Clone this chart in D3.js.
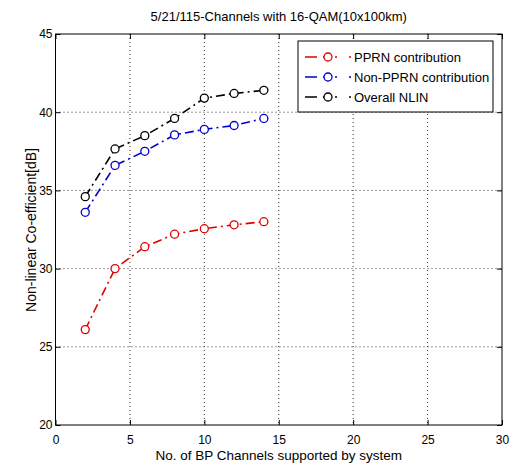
<!DOCTYPE html>
<html>
<head>
<meta charset="utf-8">
<script src="https://cdn.jsdelivr.net/npm/d3@7"></script>
<style>
body { margin: 0; background: #fff; }
text { font-family: "Liberation Sans", Arial, sans-serif; fill: #000; }
</style>
</head>
<body>
<div id="chart"></div>
<script>
// data
var channels = [2, 4, 6, 8, 10, 12, 14];
var pprn = [26.1, 30.0, 31.4, 32.2, 32.55, 32.8, 33.0];
var nonPprn = [33.6, 36.6, 37.5, 38.55, 38.9, 39.15, 39.6];
var overall = [34.6, 37.65, 38.5, 39.6, 40.9, 41.2, 41.4];
var seriesNames = ['PPRN contribution', 'Non-PPRN contribution', 'Overall NLIN'];
var seriesColors = ['#e00000', '#0000cc', '#000000'];
var xTicks = [0, 5, 10, 15, 20, 25, 30];
var yTicks = [20, 25, 30, 35, 40, 45];

var width = 512,
	height = 466,
	margin = { top: 34, left: 55.5, bottom: 41, right: 10 };

var plotW = width - margin.left - margin.right,
	plotH = height - margin.top - margin.bottom;

var x = d3.scaleLinear().domain([0, 30]).range([0, plotW]);
var y = d3.scaleLinear().domain([20, 45]).range([plotH, 0]);

var svg = d3.select('#chart')
	.append('svg')
		.attr('width', width)
		.attr('height', height);

var g = svg.append('g')
	.attr('transform', 'translate(' + margin.left + ',' + margin.top + ')');

// grid
g.selectAll('.vgrid')
	.data(xTicks.slice(1, -1))
	.enter().append('line')
		.attr('x1', function(d){ return x(d); })
		.attr('x2', function(d){ return x(d); })
		.attr('y1', 0)
		.attr('y2', plotH)
		.attr('stroke', '#333')
		.attr('stroke-width', 1)
		.attr('stroke-dasharray', '1,3');

g.selectAll('.hgrid')
	.data(yTicks.slice(1, -1))
	.enter().append('line')
		.attr('x1', 0)
		.attr('x2', plotW)
		.attr('y1', function(d){ return y(d); })
		.attr('y2', function(d){ return y(d); })
		.attr('stroke', '#333')
		.attr('stroke-width', 1)
		.attr('stroke-dasharray', '1,3');

// axes (ticks inward, mirrored on top/right)
var axisStyle = function(sel){
	sel.select('.domain').remove();
	sel.selectAll('line').attr('stroke', '#000');
	sel.selectAll('text').style('font-size', '12px').style('font-family', '"Liberation Sans", Arial, sans-serif');
};

g.append('g')
	.attr('transform', 'translate(0,' + plotH + ')')
	.call(d3.axisBottom(x).tickValues(xTicks).tickSize(-5).tickPadding(10).tickFormat(d3.format('d')))
	.call(axisStyle);

g.append('g')
	.call(d3.axisLeft(y).tickValues(yTicks).tickSize(-5).tickPadding(3).tickFormat(d3.format('d')))
	.call(axisStyle);

g.append('g')
	.call(d3.axisTop(x).tickValues(xTicks).tickSize(-5).tickFormat(''))
	.call(axisStyle);

g.append('g')
	.attr('transform', 'translate(' + plotW + ',0)')
	.call(d3.axisRight(y).tickValues(yTicks).tickSize(-5).tickFormat(''))
	.call(axisStyle);

g.append('rect')
	.attr('width', plotW)
	.attr('height', plotH)
	.attr('fill', 'none')
	.attr('stroke', '#000')
	.attr('stroke-width', 1);

// series
var allSeries = [pprn, nonPprn, overall];
var line = d3.line()
	.x(function(d, i){ return x(channels[i]); })
	.y(function(d){ return y(d); });

allSeries.forEach(function(vals, s){
	g.append('path')
		.datum(vals)
		.attr('d', line)
		.attr('fill', 'none')
		.attr('stroke', seriesColors[s])
		.attr('stroke-width', 1.6)
		.attr('stroke-dasharray', '9,4,2,4');

	g.selectAll('.m' + s)
		.data(vals)
		.enter().append('circle')
			.attr('cx', function(d, i){ return x(channels[i]); })
			.attr('cy', function(d){ return y(d); })
			.attr('r', 4)
			.attr('fill', '#fff')
			.attr('stroke', seriesColors[s])
			.attr('stroke-width', 1.3);
});

// legend
var legend = svg.append('g').attr('transform', 'translate(298,41)');
legend.append('rect')
	.attr('width', 195)
	.attr('height', 71)
	.attr('fill', '#fff')
	.attr('stroke', '#000');

seriesNames.forEach(function(name, s){
	var row = legend.append('g').attr('transform', 'translate(0,' + (16 + s * 20) + ')');
	row.append('line')
		.attr('x1', 7).attr('x2', 53)
		.attr('stroke', seriesColors[s])
		.attr('stroke-width', 1.6)
		.attr('stroke-dasharray', '12,6,2,4,2,4,2');
	row.append('circle')
		.attr('cx', 30).attr('r', 4)
		.attr('fill', '#fff')
		.attr('stroke', seriesColors[s])
		.attr('stroke-width', 1.3);
	row.append('text')
		.attr('x', 56)
		.attr('y', 4.5)
		.style('font-size', '13px')
		.text(name);
});

// titles
svg.append('text')
	.attr('x', margin.left + plotW / 2)
	.attr('y', 21)
	.attr('text-anchor', 'middle')
	.style('font-size', '13px')
	.text('5/21/115-Channels with 16-QAM(10x100km)');

svg.append('text')
	.attr('x', margin.left + plotW / 2)
	.attr('y', 460)
	.attr('text-anchor', 'middle')
	.style('font-size', '13.5px')
	.text('No. of BP Channels supported by system');

svg.append('text')
	.attr('transform', 'translate(36,230) rotate(-90)')
	.attr('text-anchor', 'middle')
	.style('font-size', '14px')
	.text('Non-linear Co-efficient[dB]');
</script>
</body>
</html>
